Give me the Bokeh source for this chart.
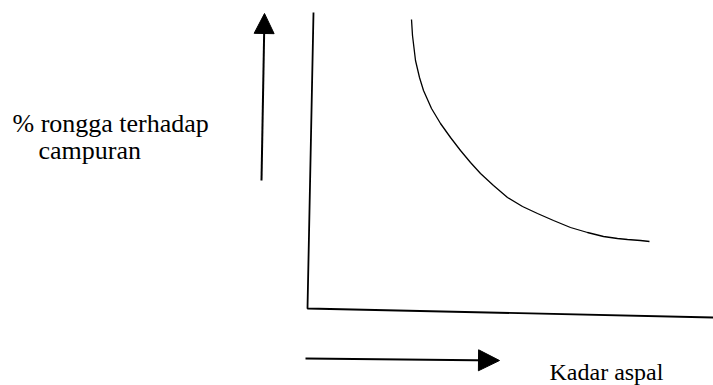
from bokeh.plotting import figure
from bokeh.models import Range1d, Arrow, NormalHead
from bokeh.core.properties import value
from bokeh.embed import file_html
from bokeh.resources import INLINE

# Curve: % voids in mix vs asphalt content (schematic, read in page pixels)
curve_x = [411, 412, 415, 419, 423, 431, 440, 450, 460, 470, 480, 493, 507,
           522, 537, 553, 570, 587, 603, 617, 627, 640, 649]
curve_y = [19, 35, 60, 77, 90, 108, 123, 137, 150, 162, 173, 185, 197,
           206, 213, 220, 227, 232, 236, 238, 239, 240, 241]

# Axes frame
axis_x = [313, 307, 713]
axis_y = [12, 308, 317]

y_label_lines = ["% rongga terhadap", "campuran"]
x_label = "Kadar aspal"

p = figure(width=713, height=385, output_backend="svg", toolbar_location=None,
           x_range=Range1d(0, 713), y_range=Range1d(385, 0),
           min_border=0, outline_line_color=None)
p.axis.visible = False
p.grid.visible = False
p.background_fill_color = "white"
p.border_fill_color = "white"

p.line(axis_x, axis_y, line_color="black", line_width=1.8)
p.line(curve_x, curve_y, line_color="black", line_width=1.3)

p.add_layout(Arrow(end=NormalHead(size=20, fill_color="black", line_color="black"),
                   x_start=261, y_start=180, x_end=264, y_end=13,
                   line_color="black", line_width=2))
p.add_layout(Arrow(end=NormalHead(size=21, fill_color="black", line_color="black"),
                   x_start=305, y_start=358, x_end=499, y_end=360,
                   line_color="black", line_width=1.8))

font = value("Liberation Serif")
p.text(x=[12, 38], y=[123, 150], text=y_label_lines, text_font=font,
       text_font_size="26px", text_color="black", text_baseline="alphabetic",
       text_align="left")
p.text(x=[549], y=[371], text=[x_label], text_font=font,
       text_font_size="24px", text_color="black", text_baseline="alphabetic",
       text_align="left")

open("out.html", "w").write(file_html(p, INLINE))
